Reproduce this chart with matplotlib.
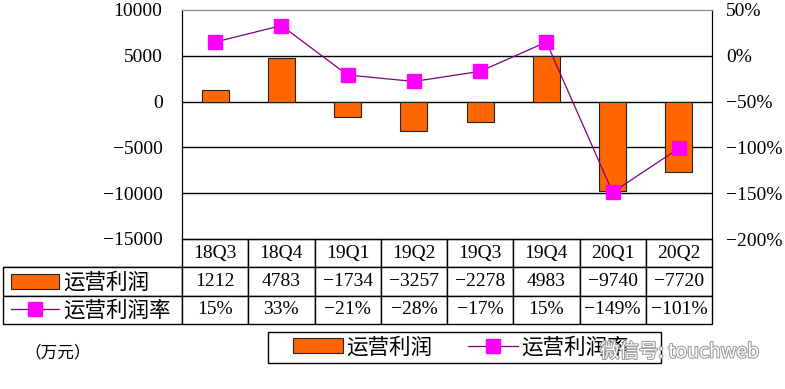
import matplotlib
matplotlib.use("Agg")
import matplotlib.pyplot as plt
import matplotlib.patheffects as pe
from matplotlib.lines import Line2D
from matplotlib.patches import Patch, Rectangle

plt.rcParams['font.family'] = ['Liberation Serif', 'Noto Sans CJK SC', 'DejaVu Sans']

# 数据
quarters = ['18Q3', '18Q4', '19Q1', '19Q2', '19Q3', '19Q4', '20Q1', '20Q2']
profit = [1212, 4783, -1734, -3257, -2278, 4983, -9740, -7720]
margin = [15, 33, -21, -28, -17, 15, -149, -101]
profit_ticks = [10000, 5000, 0, -5000, -10000, -15000]
margin_ticks = [50, 0, -50, -100, -150, -200]
series_names = ['运营利润', '运营利润率']

bar_color = '#ff6600'
line_color = '#800080'
marker_color = '#ff00ff'
fs = 14
cjk_fs = 15.5

W, H = 785, 389
fig = plt.figure(figsize=(W / 100, H / 100), dpi=100)
ax = fig.add_axes([182 / W, 1 - 239 / H, (712 - 182) / W, (239 - 10) / H])
ax2 = ax.twinx()

x = list(range(len(quarters)))
ax.bar(x, profit, width=0.41, color=bar_color, edgecolor='#222222', linewidth=0.8, zorder=3)
ax.set_xlim(-0.5, len(quarters) - 0.5)
ax.set_ylim(-15000, 10000)
ax.set_yticks(profit_ticks)
ax.set_yticklabels([f'{v}'.replace('-', '\u2212') for v in profit_ticks], fontsize=fs)
ax.set_xticks([])
ax.tick_params(axis='y', length=0, pad=14)
for v in profit_ticks[1:-1]:
    ax.axhline(v, color='black', linewidth=1, zorder=1)
ax.spines['top'].set_color('#888888')
ax.spines['left'].set_color('black')
ax.spines['bottom'].set_color('black')

ax2.plot(x, margin, color=line_color, linewidth=0.9, marker='s', markersize=10,
         markerfacecolor=marker_color, markeredgecolor=marker_color, zorder=4)
ax2.set_ylim(-200, 50)
ax2.set_yticks(margin_ticks)
ax2.set_yticklabels([f'{v}%'.replace('-', '\u2212') for v in margin_ticks], fontsize=fs)
ax2.tick_params(axis='y', length=0, pad=10)
ax2.spines['right'].set_color('black')
ax2.spines['top'].set_color('#888888')

# 数据表
label_w = (182 - 3) / (712 - 182)
tab_h = (324 - 239) / (239 - 10)
cells = [[''] + [f'{v}'.replace('-', '\u2212') for v in profit],
         [''] + [f'{v}%'.replace('-', '\u2212') for v in margin]]
tab = ax.table(cellText=cells, colLabels=[''] + quarters,
               colWidths=[label_w] + [1 / len(quarters)] * len(quarters),
               cellLoc='center', loc='bottom',
               bbox=[-label_w, -tab_h, 1 + label_w, tab_h])
tab.auto_set_font_size(False)
tab.set_fontsize(fs)
for (r, c), cell in tab.get_celld().items():
    cell.set_linewidth(1)
    cell.set_edgecolor('black')
    if r == 0 and c == 0:
        cell.visible_edges = 'B'

h_bar = Patch(facecolor=bar_color, edgecolor='#222222', linewidth=0.8)
h_line = Line2D([], [], color=line_color, linewidth=0.9, marker='s', markersize=10,
                markerfacecolor=marker_color, markeredgecolor=marker_color)

# 表格左侧的图例键
fig.legend([h_bar, h_line], series_names, loc='upper left',
           bbox_to_anchor=(7 / W, 1 - 269 / H), frameon=False,
           prop={'size': cjk_fs}, handlelength=2.2, handletextpad=0.2,
           labelspacing=0.33, borderpad=0.2, borderaxespad=0)

# 底部图例
fig.legend([h_bar, h_line], series_names, loc='center left', ncol=2,
           bbox_to_anchor=(293 / W, 1 - 348 / H), frameon=False,
           prop={'size': cjk_fs}, handlelength=2.3, handletextpad=0.15,
           columnspacing=1.7, borderpad=0, borderaxespad=0)
fig.patches.append(Rectangle((268 / W, 1 - 363 / H), (661 - 268) / W, 31 / H,
                             transform=fig.transFigure, fill=False,
                             edgecolor='black', linewidth=1))

fig.text(24 / W, 1 - 353 / H, '（万元）', fontsize=12, va='center', ha='left')
fig.text(600 / W, 1 - 352 / H, '微信号: touchweb', fontsize=14, va='center', ha='left',
         color='white', family=['Noto Sans CJK SC', 'DejaVu Sans'], zorder=10,
         path_effects=[pe.withStroke(linewidth=1.5, foreground='#999999')])

fig.savefig('out.png', dpi=100, facecolor='white')
